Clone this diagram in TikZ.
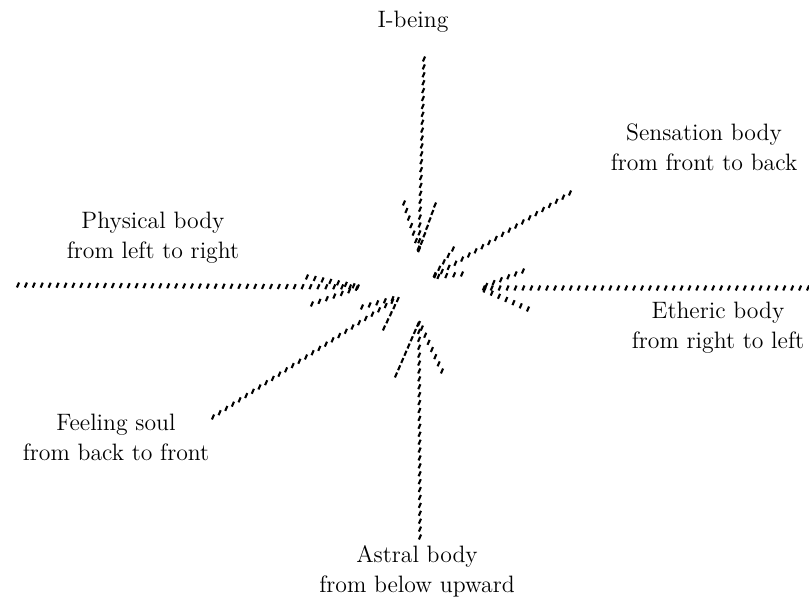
\documentclass[tikz,border=0pt]{standalone}
\usepackage{tikz}
\usetikzlibrary{decorations.markings}
\tikzset{
  hatch/.style={postaction={decorate}, decoration={markings,
    mark=between positions 0 and 1 step 4.5pt with {\pgftransformresetnontranslations
      \draw[line width=1.2pt] (-0.6pt,-1.4pt) -- (0.6pt,1.4pt);}}},
  lbl/.style={align=center, inner sep=0pt, font=\fontsize{13.5}{17}\selectfont}
}
\begin{document}
\begin{tikzpicture}[x=0.02cm, y=-0.02cm]
  \useasboundingbox (0,0) rectangle (809,598);

  % Labels.
  \node[lbl] (ibeing) at (413,22) {I-being};
  \node[lbl] (sensation) at (704,147) {Sensation body\\from front to back};
  \node[lbl] (physical) at (153,238) {Physical body\\from left to right};
  \node[lbl] (etheric) at (718,328) {Etheric body\\from right to left};
  \node[lbl] (feeling) at (116,437) {Feeling soul\\from back to front};
  \node[lbl] (astral) at (417,571) {Astral body\\from below upward};

  % Tails, tips and the two wings of each head.
  \coordinate (ib-tail) at (424,59);  \coordinate (ib-tip) at (419,250);
  \coordinate (ib-l) at (404,203);    \coordinate (ib-r) at (435,205);
  \coordinate (se-tail) at (570,193); \coordinate (se-tip) at (433,277);
  \coordinate (se-l) at (453,249);    \coordinate (se-r) at (462,274);
  \coordinate (ph-tail) at (18,285);  \coordinate (ph-tip) at (360,287);
  \coordinate (ph-l) at (307,277);    \coordinate (ph-r) at (312,304);
  \coordinate (et-tail) at (808,288); \coordinate (et-tip) at (480,288);
  \coordinate (et-l) at (523,271);    \coordinate (et-r) at (528,309);
  \coordinate (fe-tail) at (213,417); \coordinate (fe-tip) at (399,297);
  \coordinate (fe-l) at (362,307);    \coordinate (fe-r) at (384,328);
  \coordinate (as-tail) at (420,537); \coordinate (as-tip) at (419,322);
  \coordinate (as-l) at (396,375);    \coordinate (as-r) at (442,371);

  % Hatched arrows toward the centre.
  \foreach \a in {ib, se, ph, et, fe, as} {
    \path[hatch] (\a-tail) -- (\a-tip);
    \path[hatch] (\a-l) -- (\a-tip);
    \path[hatch] (\a-r) -- (\a-tip);
  }
\end{tikzpicture}
\end{document}
